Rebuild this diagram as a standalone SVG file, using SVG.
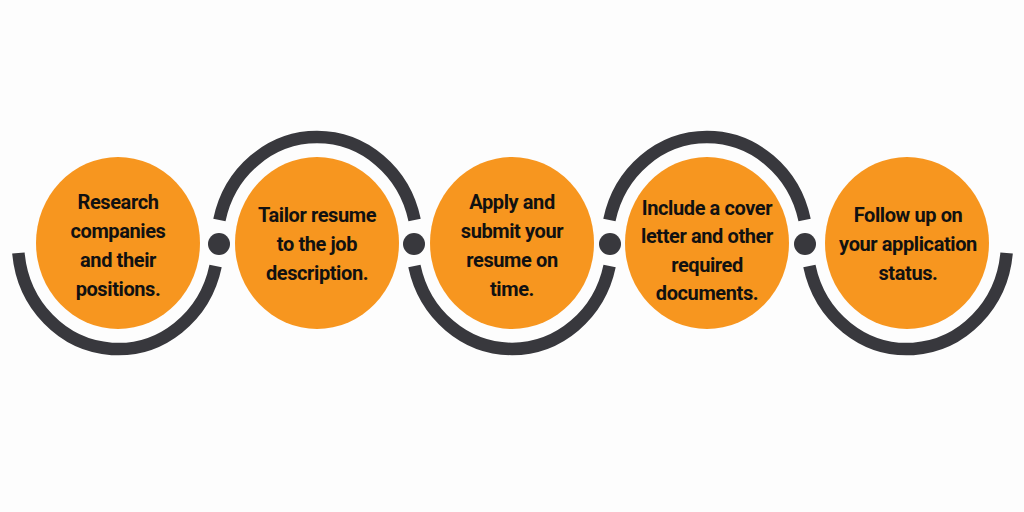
<svg xmlns="http://www.w3.org/2000/svg" width="1024" height="512" viewBox="0 0 1024 512">
<style>
.node{fill:#F7961F}
.ring{fill:none;stroke:#38383D;stroke-width:12.5}
.dot{fill:#38383D}
.lbl{font-family:Roboto,"Liberation Sans",sans-serif;font-weight:700;font-size:20px;letter-spacing:-0.4px;fill:#111;text-anchor:middle}
</style>
<rect width="1024" height="512" fill="#FDFDFD"/>
<g id="connectors">
<path class="ring" d="M18.4 253 A100 106 0 0 0 215.6 266"/>
<path class="ring" d="M219.4 220 A100 106 0 0 1 414.6 220"/>
<path class="ring" d="M414.4 266 A100 106 0 0 0 609.6 266"/>
<path class="ring" d="M609.4 220 A100 106 0 0 1 804.6 220"/>
<path class="ring" d="M809.4 266 A100 106 0 0 0 1006.6 253"/>
<circle class="dot" cx="219" cy="244" r="11"/>
<circle class="dot" cx="414" cy="244" r="11"/>
<circle class="dot" cx="610" cy="244" r="11"/>
<circle class="dot" cx="805" cy="244" r="11"/>
</g>
<g id="node1">
<ellipse class="node" cx="118" cy="243" rx="82" ry="86"/>
<text class="lbl" x="118" y="209">Research</text>
<text class="lbl" x="118" y="238">companies</text>
<text class="lbl" x="118" y="267">and their</text>
<text class="lbl" x="118" y="296">positions.</text>
</g>
<g id="node2">
<ellipse class="node" cx="317" cy="243" rx="82" ry="86"/>
<text class="lbl" x="317" y="222">Tailor resume</text>
<text class="lbl" x="317" y="251">to the job</text>
<text class="lbl" x="317" y="280">description.</text>
</g>
<g id="node3">
<ellipse class="node" cx="512" cy="243" rx="82" ry="86"/>
<text class="lbl" x="512" y="209">Apply and</text>
<text class="lbl" x="512" y="238">submit your</text>
<text class="lbl" x="512" y="267">resume on</text>
<text class="lbl" x="512" y="296">time.</text>
</g>
<g id="node4">
<ellipse class="node" cx="707" cy="243" rx="82" ry="86"/>
<text class="lbl" x="707" y="215">Include a cover</text>
<text class="lbl" x="707" y="243">letter and other</text>
<text class="lbl" x="707" y="272">required</text>
<text class="lbl" x="707" y="300">documents.</text>
</g>
<g id="node5">
<ellipse class="node" cx="907" cy="243" rx="82" ry="86"/>
<text class="lbl" x="908" y="222">Follow up on</text>
<text class="lbl" x="908" y="251">your application</text>
<text class="lbl" x="908" y="280">status.</text>
</g>
</svg>
